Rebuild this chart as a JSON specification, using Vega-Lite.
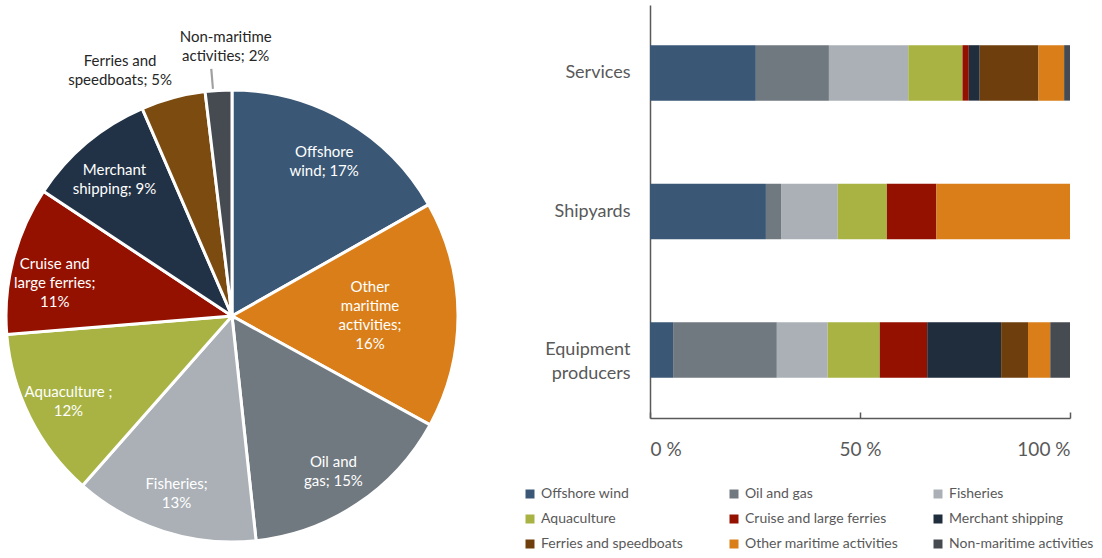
{
  "$schema": "https://vega.github.io/schema/vega-lite/v6.json",
  "padding": {"left": 0, "top": 5, "right": 0, "bottom": 0},
  "config": {"view": {"stroke": null}, "font": "Lato"},
  "datasets": {
    "pie": [
      {"sector": "Offshore wind", "share": 16.8, "label": "Offshore\nwind; 17%"},
      {"sector": "Other maritime activities", "share": 16.2, "label": "Other\nmaritime\nactivities;\n16%"},
      {"sector": "Oil and gas", "share": 15.3, "label": "Oil and\ngas; 15%"},
      {"sector": "Fisheries", "share": 13.2, "label": "Fisheries;\n13%"},
      {"sector": "Aquaculture", "share": 12.2, "label": "Aquaculture ;\n12%"},
      {"sector": "Cruise and large ferries", "share": 10.6, "label": "Cruise and\nlarge ferries;\n11%"},
      {"sector": "Merchant shipping", "share": 9.2, "label": "Merchant\nshipping; 9%"},
      {"sector": "Ferries and speedboats", "share": 4.6, "label": "Ferries and\nspeedboats; 5%"},
      {"sector": "Non-maritime activities", "share": 1.9, "label": "Non-maritime\nactivities; 2%"}
    ],
    "bars": [
      {"group": "Services", "sector": "Offshore wind", "value": 25.2},
      {"group": "Services", "sector": "Oil and gas", "value": 17.4},
      {"group": "Services", "sector": "Fisheries", "value": 18.9},
      {"group": "Services", "sector": "Aquaculture", "value": 12.9},
      {"group": "Services", "sector": "Cruise and large ferries", "value": 1.5},
      {"group": "Services", "sector": "Merchant shipping", "value": 2.6},
      {"group": "Services", "sector": "Ferries and speedboats", "value": 14.0},
      {"group": "Services", "sector": "Other maritime activities", "value": 6.1},
      {"group": "Services", "sector": "Non-maritime activities", "value": 1.4},
      {"group": "Shipyards", "sector": "Offshore wind", "value": 27.6},
      {"group": "Shipyards", "sector": "Oil and gas", "value": 3.6},
      {"group": "Shipyards", "sector": "Fisheries", "value": 13.5},
      {"group": "Shipyards", "sector": "Aquaculture", "value": 11.7},
      {"group": "Shipyards", "sector": "Cruise and large ferries", "value": 11.8},
      {"group": "Shipyards", "sector": "Merchant shipping", "value": 0},
      {"group": "Shipyards", "sector": "Ferries and speedboats", "value": 0},
      {"group": "Shipyards", "sector": "Other maritime activities", "value": 31.8},
      {"group": "Shipyards", "sector": "Non-maritime activities", "value": 0},
      {"group": "Equipment producers", "sector": "Offshore wind", "value": 5.5},
      {"group": "Equipment producers", "sector": "Oil and gas", "value": 24.7},
      {"group": "Equipment producers", "sector": "Fisheries", "value": 12.1},
      {"group": "Equipment producers", "sector": "Aquaculture", "value": 12.4},
      {"group": "Equipment producers", "sector": "Cruise and large ferries", "value": 11.3},
      {"group": "Equipment producers", "sector": "Merchant shipping", "value": 17.6},
      {"group": "Equipment producers", "sector": "Ferries and speedboats", "value": 6.4},
      {"group": "Equipment producers", "sector": "Other maritime activities", "value": 5.3},
      {"group": "Equipment producers", "sector": "Non-maritime activities", "value": 4.7}
    ]
  },
  "spacing": 59,
  "bounds": "full",
  "resolve": {"scale": {"color": "independent"}, "legend": {"color": "independent"}},
  "hconcat": [
    {
      "spacing": 0,
      "bounds": "flush",
      "vconcat": [
        {
          "width": 452,
          "height": 81,
          "data": {"values": [{}]},
          "mark": {"type": "point", "opacity": 0},
          "encoding": {}
        },
        {
          "width": 452,
          "height": 460,
          "data": {"name": "pie"},
          "transform": [
            {"window": [{"op": "row_number", "as": "rank"}]},
            {"stack": "share", "groupby": [], "sort": [{"field": "rank", "order": "ascending"}], "as": ["t0", "t1"]}
          ],
          "layer": [
            {
              "mark": {"type": "arc", "outerRadius": 226, "stroke": "white", "strokeWidth": 3},
              "encoding": {
                "theta": {"field": "share", "type": "quantitative", "stack": true, "scale": {"domain": [0, 100]}},
                "order": {"field": "rank", "type": "quantitative"},
                "color": {
                  "field": "sector", "type": "nominal", "legend": null,
                  "scale": {
                    "domain": ["Offshore wind", "Oil and gas", "Fisheries", "Aquaculture", "Cruise and large ferries", "Merchant shipping", "Ferries and speedboats", "Other maritime activities", "Non-maritime activities"],
                    "range": ["#3A5775", "#707880", "#AAB0B6", "#A8B343", "#941100", "#223246", "#7B4B10", "#D97E18", "#464B51"]
                  }
                }
              }
            },
            {
              "mark": {"type": "text", "radius": 183, "dy": -6, "fill": "white", "fontSize": 15, "lineBreak": "\n", "lineHeight": 19},
              "encoding": {
                "theta": {"field": "share", "type": "quantitative", "stack": true},
                "order": {"field": "rank", "type": "quantitative"},
                "text": {"condition": {"test": "indexof(['Other maritime activities', 'Ferries and speedboats', 'Non-maritime activities'], datum.sector) < 0", "field": "label"}, "value": ""}
              }
            },
            {
              "mark": {"type": "text", "radius": 138, "dy": -28, "fill": "white", "fontSize": 15, "lineBreak": "\n", "lineHeight": 19},
              "encoding": {
                "theta": {"field": "share", "type": "quantitative", "stack": true},
                "order": {"field": "rank", "type": "quantitative"},
                "text": {"condition": {"test": "datum.sector == 'Other maritime activities'", "field": "label"}, "value": ""}
              }
            },
            {
              "transform": [{"filter": "datum.sector == 'Ferries and speedboats'"}],
              "mark": {"type": "text", "radius": 270, "dy": -9, "thetaOffset": -0.019, "fill": "#262626", "fontSize": 15, "lineBreak": "\n", "lineHeight": 19},
              "encoding": {
                "theta": {"field": "t0", "type": "quantitative"},
                "text": {"field": "label"}
              }
            },
            {
              "transform": [{"filter": "datum.sector == 'Non-maritime activities'"}],
              "mark": {"type": "text", "radius": 270, "dy": -9, "thetaOffset": 0.096, "fill": "#262626", "fontSize": 15, "lineBreak": "\n", "lineHeight": 19},
              "encoding": {
                "theta": {"field": "t0", "type": "quantitative"},
                "text": {"field": "label"}
              }
            },
            {
              "data": {"values": [{"sector": "Non-maritime activities"}]},
              "mark": {"type": "arc", "theta": 6.195, "theta2": 6.204, "radius": 248, "radius2": 228, "fill": "#A0A0A0"},
              "encoding": {}
            }
          ]
        }
      ]
    },
    {
      "width": 420,
      "height": 413,
      "data": {"name": "bars"},
      "transform": [{"window": [{"op": "row_number", "as": "rank"}]}],
      "mark": {"type": "bar"},
      "encoding": {
        "y": {
          "field": "group", "type": "nominal",
          "sort": ["Services", "Shipyards", "Equipment producers"],
          "scale": {"paddingInner": 0.6, "paddingOuter": 0.29},
          "axis": {
            "title": null, "ticks": false, "domainColor": "#595959", "domainWidth": 1.5,
            "labelFontSize": 18, "labelColor": "#595959", "labelPadding": 20, "labelLineHeight": 24,
            "labelExpr": "datum.value == 'Equipment producers' ? ['Equipment', 'producers'] : datum.value"
          }
        },
        "x": {
          "field": "value", "type": "quantitative", "stack": "normalize",
          "scale": {"domain": [0, 1]},
          "axis": {
            "title": null, "grid": false, "values": [0, 0.5, 1],
            "labelExpr": "format(datum.value * 100, 'd') + ' %'",
            "domainColor": "#595959", "domainWidth": 1.5, "tickColor": "#595959", "tickWidth": 1.5,
            "tickSize": -6, "labelPadding": 28, "labelFontSize": 19, "labelColor": "#595959"
          }
        },
        "color": {
          "field": "sector", "type": "nominal",
          "scale": {
            "domain": ["Offshore wind", "Oil and gas", "Fisheries", "Aquaculture", "Cruise and large ferries", "Merchant shipping", "Ferries and speedboats", "Other maritime activities", "Non-maritime activities"],
            "range": ["#3A5775", "#707880", "#AAB0B6", "#A8B343", "#941100", "#1F2D3D", "#6E3F0C", "#D97E18", "#464B51"]
          },
          "legend": {
            "orient": "none", "legendX": -127, "legendY": 482, "columns": 3, "direction": "horizontal",
            "title": null, "symbolType": "square", "symbolSize": 81, "symbolStrokeWidth": 0,
            "labelFontSize": 14, "labelColor": "#595959", "labelOffset": 4,
            "rowPadding": 11, "columnPadding": 32, "gridAlign": "all", "labelLimit": 300
          }
        },
        "order": {"field": "rank", "type": "quantitative"}
      }
    }
  ]
}
